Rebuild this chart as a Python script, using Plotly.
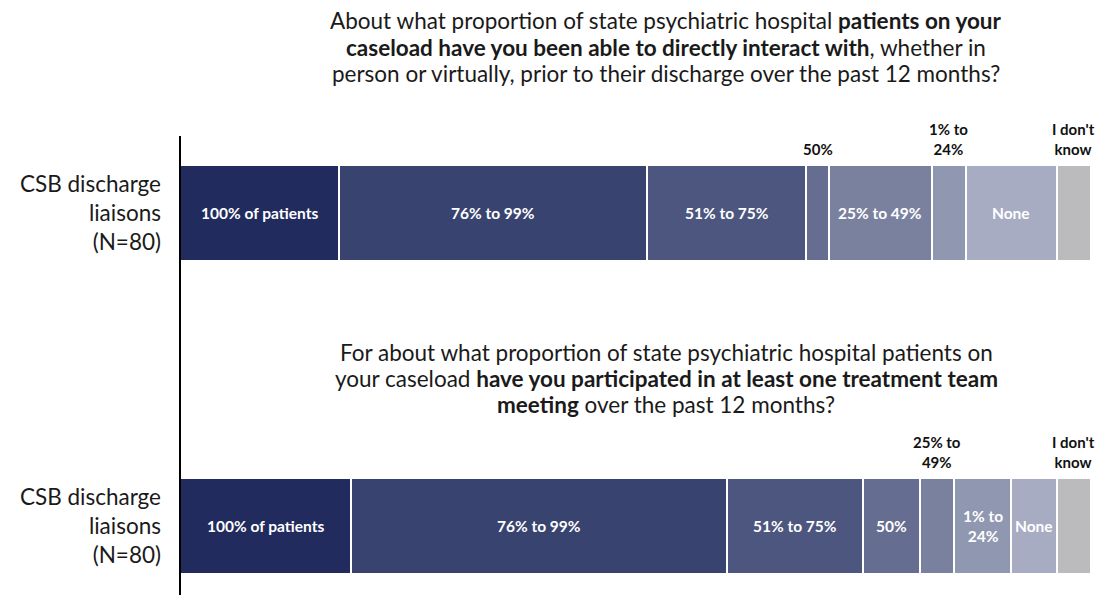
import plotly.graph_objects as go

# Response categories, shared by both questions
categories = ["100% of patients", "76% to 99%", "51% to 75%", "50%",
              "25% to 49%", "1% to 24%", "None", "I don't know"]
wrapped_labels = ["100% of patients", "76% to 99%", "51% to 75%", "50%",
                  "25% to<br>49%", "1% to<br>24%", "None", "I don't<br>know"]

group_label = "CSB discharge<br>liaisons<br>(N=80)"
n_total = 80

# Respondent counts per category
interact_counts = [14, 27, 14, 2, 9, 3, 8, 3]
meeting_counts = [15, 33, 12, 5, 3, 5, 4, 3]

question_lines = [
    ["About what proportion of state psychiatric hospital <b>patients on your</b>",
     "<b>caseload have you been able to directly interact with</b>, whether in",
     "person or virtually, prior to their discharge over the past 12 months?"],
    ["For about what proportion of state psychiatric hospital patients on",
     "your caseload <b>have you participated in at least one treatment team</b>",
     "<b>meeting</b> over the past 12 months?"],
]

colors = ["#212B5E", "#39436F", "#4C567F", "#656D91",
          "#7A819F", "#9097B1", "#A8ACC3", "#BBBBBD"]

FONT = "Lato"
W, H = 1103, 595
plot_left = 180
plot_w = W - plot_left - 12

fig = go.Figure()
annotations = []

panels = [
    (interact_counts, "x", "y", [20, 47, 73]),
    (meeting_counts, "x2", "y2", [352, 378, 404]),
]

title_x = (666 - plot_left) / plot_w

for (counts, xr, yr, title_ys), lines in zip(panels, question_lines):
    start = 0
    for cat, label, n, col in zip(categories, wrapped_labels, counts, colors):
        fig.add_trace(go.Bar(
            x=[n], y=[group_label], orientation="h", name=cat,
            marker=dict(color=col, line=dict(color="white", width=2)),
            width=1, xaxis=xr, yaxis=yr, showlegend=False,
            hoverinfo="x+name",
        ))
        share = n / n_total * 100
        mid = start + n / 2
        text = label if share < 7 else cat
        if share < 4:
            annotations.append(dict(
                x=mid, xref=xr, y=1, yref=f"{yr} domain",
                text=f"<b>{text}</b>", showarrow=False,
                yanchor="bottom", yshift=5,
                font=dict(family=FONT, size=15, color="#111111"),
            ))
        else:
            annotations.append(dict(
                x=mid, xref=xr, y=group_label, yref=yr,
                text=f"<b>{text}</b>", showarrow=False,
                font=dict(family=FONT, size=15.5, color="white"),
            ))
        start += n

    # question heading, one annotation per line
    for line, ypix in zip(lines, title_ys):
        annotations.append(dict(
            x=title_x, xref="paper", y=(H - ypix) / H, yref="paper",
            text=line, showarrow=False, yanchor="middle", xanchor="center",
            height=26, valign="middle",
            font=dict(family=FONT, size=22.5, color="#1a1a1a"),
        ))

axis_common = dict(range=[0, n_total], showgrid=False, zeroline=False,
                   showticklabels=False, fixedrange=True)
yaxis_common = dict(showgrid=False, zeroline=False, ticks="",
                    ticklabelstandoff=18, range=[-0.5, 0.5],
                    tickfont=dict(family=FONT, size=22.5, color="#1a1a1a"))

fig.update_layout(
    barmode="stack",
    width=W, height=H,
    margin=dict(l=plot_left, r=12, t=0, b=0),
    paper_bgcolor="white", plot_bgcolor="white",
    xaxis=dict(domain=[0, 1], anchor="y", **axis_common),
    xaxis2=dict(domain=[0, 1], anchor="y2", **axis_common),
    yaxis=dict(domain=[(H - 261) / H, (H - 165) / H], anchor="x",
               **yaxis_common),
    yaxis2=dict(domain=[(H - 574) / H, (H - 478) / H], anchor="x2",
                **yaxis_common),
    annotations=annotations,
    shapes=[dict(type="line", xref="paper", yref="paper",
                 x0=0, x1=0, y0=0, y1=(H - 136) / H,
                 line=dict(color="black", width=2))],
    font=dict(family=FONT),
)

fig.write_html("out.html")
